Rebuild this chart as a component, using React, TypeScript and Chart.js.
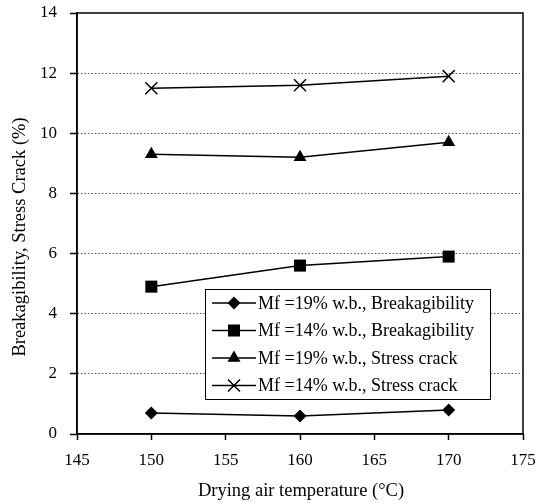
import React, { useEffect, useRef } from "react";
import { Chart, registerables } from "chart.js";

Chart.register(...registerables);

// Drying air temperature (°C)
const temperatures = [150, 160, 170];
// Breakagibility (%)
const breakMf19 = [0.7, 0.6, 0.8];
const breakMf14 = [4.9, 5.6, 5.9];
// Stress crack (%)
const crackMf19 = [9.3, 9.2, 9.7];
const crackMf14 = [11.5, 11.6, 11.9];

const seriesLabels = [
  "Mf =19% w.b., Breakagibility",
  "Mf =14% w.b., Breakagibility",
  "Mf =19% w.b., Stress crack",
  "Mf =14% w.b., Stress crack",
];
const xTitle = "Drying air temperature (°C)";
const yTitle = "Breakagibility, Stress Crack (%)";

const FONT = "'Liberation Serif', 'Times New Roman', serif";

type Marker = { style: string; radius: number };
const markers: Marker[] = [
  { style: "rectRot", radius: 6.5 },
  { style: "rect", radius: 8.5 },
  { style: "triangle", radius: 7.5 },
  { style: "crossRot", radius: 8.5 },
];

function drawMarker(ctx: CanvasRenderingContext2D, m: Marker, x: number, y: number) {
  const r = m.radius;
  ctx.save();
  ctx.fillStyle = "#000";
  ctx.strokeStyle = "#000";
  ctx.lineWidth = 1.5;
  ctx.beginPath();
  if (m.style === "rectRot") {
    ctx.moveTo(x - r, y);
    ctx.lineTo(x, y - r);
    ctx.lineTo(x + r, y);
    ctx.lineTo(x, y + r);
    ctx.closePath();
    ctx.fill();
  } else if (m.style === "rect") {
    const s = Math.SQRT1_2 * r;
    ctx.rect(x - s, y - s, 2 * s, 2 * s);
    ctx.fill();
  } else if (m.style === "triangle") {
    const a = (2 * Math.PI) / 3;
    ctx.moveTo(x, y - r);
    ctx.lineTo(x + Math.sin(a) * r, y - Math.cos(a) * r);
    ctx.lineTo(x + Math.sin(2 * a) * r, y - Math.cos(2 * a) * r);
    ctx.closePath();
    ctx.fill();
  } else {
    const o = Math.SQRT1_2 * r;
    ctx.moveTo(x - o, y - o);
    ctx.lineTo(x + o, y + o);
    ctx.moveTo(x - o, y + o);
    ctx.lineTo(x + o, y - o);
    ctx.stroke();
  }
  ctx.restore();
}

const framePlugin = {
  id: "frameAndLegend",
  afterDraw(chart: any) {
    const { ctx, chartArea } = chart;
    const { left, right, top, bottom } = chartArea;
    ctx.save();
    // plot frame
    ctx.strokeStyle = "#000";
    ctx.lineWidth = 1.5;
    ctx.strokeRect(left, top, right - left, bottom - top);

    // legend box
    const lx = 205, ly = 289, lw = 285, lh = 110;
    ctx.fillStyle = "#fff";
    ctx.fillRect(lx, ly, lw, lh);
    ctx.strokeStyle = "#000";
    ctx.lineWidth = 1;
    ctx.strokeRect(lx + 0.5, ly + 0.5, lw, lh);
    ctx.font = `18px ${FONT}`;
    ctx.textBaseline = "middle";
    ctx.textAlign = "left";
    seriesLabels.forEach((label, i) => {
      const cy = ly + 14 + i * 27.5;
      ctx.strokeStyle = "#000";
      ctx.lineWidth = 1.5;
      ctx.beginPath();
      ctx.moveTo(lx + 7, cy);
      ctx.lineTo(lx + 51, cy);
      ctx.stroke();
      drawMarker(ctx, markers[i], lx + 29, cy);
      ctx.fillStyle = "#000";
      ctx.fillText(label, lx + 53, cy + 1);
    });

    // axis titles
    ctx.fillStyle = "#000";
    ctx.font = `18.5px ${FONT}`;
    ctx.textAlign = "center";
    ctx.textBaseline = "middle";
    ctx.fillText(xTitle, 301, 491);
    ctx.save();
    ctx.translate(20, 237);
    ctx.rotate(-Math.PI / 2);
    ctx.fillText(yTitle, 0, 0);
    ctx.restore();
    ctx.restore();
  },
};

export default function App() {
  const canvasRef = useRef<HTMLCanvasElement | null>(null);

  useEffect(() => {
    document.body.style.margin = "0";
    const canvas = canvasRef.current;
    if (!canvas) return;
    const series = [breakMf19, breakMf14, crackMf19, crackMf14];
    const chart = new Chart(canvas, {
      type: "line",
      data: {
        datasets: series.map((vals, i) => ({
          label: seriesLabels[i],
          data: temperatures.map((t, j) => ({ x: t, y: vals[j] })),
          borderColor: "#000",
          backgroundColor: "#000",
          borderWidth: 1.5,
          pointStyle: markers[i].style as any,
          pointRadius: markers[i].radius,
          pointBorderWidth: markers[i].style === "crossRot" ? 1.5 : 0,
          pointBackgroundColor: "#000",
          pointBorderColor: "#000",
          tension: 0,
        })),
      },
      options: {
        responsive: false,
        animation: false,
        layout: { padding: { left: 0, top: 13, right: 19, bottom: 0 } },
        plugins: { legend: { display: false }, tooltip: { enabled: false } },
        scales: {
          x: {
            type: "linear",
            min: 145,
            max: 175,
            ticks: {
              stepSize: 5,
              color: "#000",
              font: { family: FONT, size: 17 },
              padding: 10,
              maxRotation: 0,
            },
            grid: {
              drawOnChartArea: false,
              drawTicks: true,
              tickLength: 6,
              tickColor: "#000",
              tickWidth: 1.5,
            },
            border: { color: "#000", width: 1.5 },
            afterFit(scale: any) {
              scale.height = 69;
              scale.paddingLeft = 0;
              scale.paddingRight = 0;
            },
          },
          y: {
            min: 0,
            max: 14,
            ticks: {
              stepSize: 2,
              color: "#000",
              font: { family: FONT, size: 17 },
              padding: 13,
            },
            grid: {
              color: (c: any) =>
                c.tick && (c.tick.value === 0 || c.tick.value === 14) ? "rgba(0,0,0,0)" : "#555",
              lineWidth: 1,
              tickLength: 7,
              tickColor: "#000",
              tickWidth: 1.5,
            },
            border: { color: "#000", width: 1.5, dash: [1.5, 2] },
            afterFit(scale: any) {
              scale.width = 77;
              scale.paddingTop = 0;
              scale.paddingBottom = 0;
            },
          },
        },
      },
      plugins: [framePlugin],
    });
    return () => chart.destroy();
  }, []);

  return <canvas ref={canvasRef} width={542} height={503} style={{ display: "block" }} />;
}
